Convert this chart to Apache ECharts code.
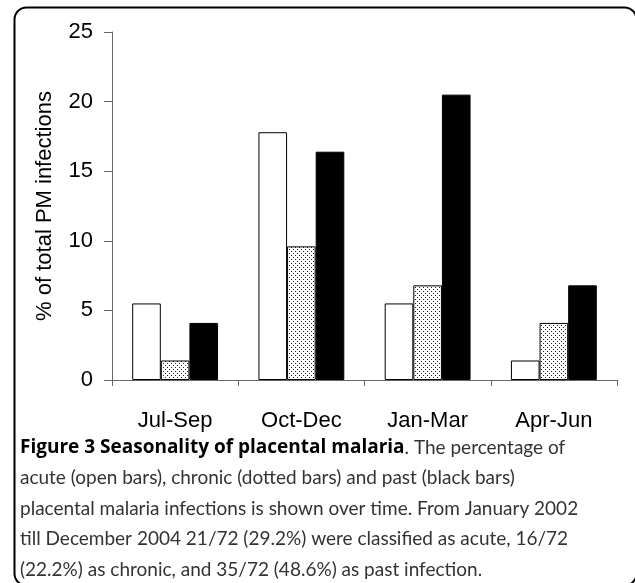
<!DOCTYPE html>
<html>
<head>
<meta charset="utf-8">
<script src="https://cdn.jsdelivr.net/npm/echarts@6/dist/echarts.min.js"></script>
<style>
  html, body { margin: 0; padding: 0; background: #fff; }
  #chart { width: 635px; height: 583px; }
</style>
</head>
<body>
<div id="chart"></div>
<script>
const categories = ["Jul-Sep", "Oct-Dec", "Jan-Mar", "Apr-Jun"];
const acute = [5.5, 17.8, 5.5, 1.4];
const chronic = [1.4, 9.6, 6.8, 4.1];
const past = [4.1, 16.4, 20.5, 6.8];
const yTicks = { min: 0, max: 25, interval: 5 };

const captionLines = [
  "{b|Figure 3 Seasonality of placental malaria}. The percentage of",
  "acute (open bars), chronic (dotted bars) and past (black bars)",
  "placental malaria infections is shown over time. From January 2002",
  "till December 2004 21/72 (29.2%) were classified as acute, 16/72",
  "(22.2%) as chronic, and 35/72 (48.6%) as past infection."
];

// small dotted tile for the chronic bars
function dotPattern() {
  const c = document.createElement("canvas");
  c.width = 4;
  c.height = 4;
  const ctx = c.getContext("2d");
  ctx.fillStyle = "#fff";
  ctx.fillRect(0, 0, 4, 4);
  ctx.fillStyle = "#222";
  ctx.fillRect(1, 1, 1, 1);
  ctx.fillRect(3, 3, 1, 1);
  return c;
}

const AXIS_FONT = "'Liberation Sans', Arial, sans-serif";
const CAPTION_FONT = "Lato, 'Open Sans', sans-serif";
const CAPTION_BOLD_FONT = "'Open Sans', 'Noto Sans', sans-serif";

const chart = echarts.init(document.getElementById("chart"));

const captionY = [448, 478, 508.5, 539, 569.5];

const option = {
  animation: false,
  grid: { left: 112, right: 18, top: 32, bottom: 203 },
  xAxis: {
    type: "category",
    data: categories,
    axisLine: { lineStyle: { color: "#666", width: 1 } },
    axisTick: { show: true, length: 6, lineStyle: { color: "#666" } },
    axisLabel: { color: "#000", fontFamily: AXIS_FONT, fontSize: 22, margin: 30 }
  },
  yAxis: {
    type: "value",
    min: yTicks.min,
    max: yTicks.max,
    interval: yTicks.interval,
    name: "% of total PM infections",
    nameLocation: "middle",
    nameGap: 56,
    nameTextStyle: { color: "#000", fontFamily: AXIS_FONT, fontSize: 22 },
    splitLine: { show: false },
    axisLine: { show: true, lineStyle: { color: "#666", width: 1 } },
    axisTick: { show: true, length: 8, lineStyle: { color: "#666" } },
    axisLabel: { color: "#000", fontFamily: AXIS_FONT, fontSize: 22, margin: 19 }
  },
  series: [
    {
      name: "acute", type: "bar", data: acute,
      barGap: "0%", barCategoryGap: "32%",
      itemStyle: { color: "#fff", borderColor: "#000", borderWidth: 1 }
    },
    {
      name: "chronic", type: "bar", data: chronic,
      itemStyle: { color: { image: dotPattern(), repeat: "repeat" }, borderColor: "#000", borderWidth: 1 }
    },
    {
      name: "past", type: "bar", data: past,
      itemStyle: { color: "#000", borderColor: "#000", borderWidth: 1 }
    }
  ],
  graphic: [
    {
      type: "rect",
      shape: { x: 14.5, y: 7.5, width: 622, height: 578, r: 12 },
      style: { fill: null, stroke: "#000", lineWidth: 2 },
      silent: true
    }
  ].concat(captionLines.map((line, i) => ({
    type: "text",
    x: 20,
    y: captionY[i],
    style: {
      text: line,
      fill: "#333",
      font: "19px " + CAPTION_FONT,
      verticalAlign: "middle",
      rich: {
        b: { fontWeight: "bold", fill: "#000", fontFamily: CAPTION_BOLD_FONT, fontSize: 19 }
      }
    }
  })))
};

chart.setOption(option);
</script>
</body>
</html>
